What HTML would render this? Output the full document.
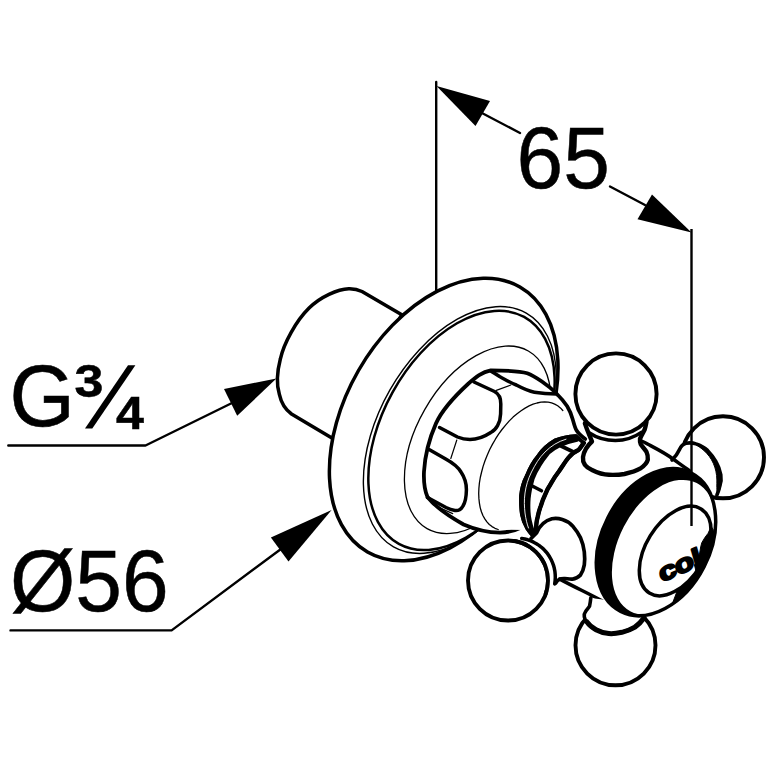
<!DOCTYPE html>
<html><head><meta charset="utf-8">
<style>
html,body{margin:0;padding:0;background:#fff;}
body{width:771px;height:771px;overflow:hidden;}
svg{display:block;}
text{font-family:"Liberation Sans",sans-serif;fill:#000;}
</style></head>
<body>
<svg width="771" height="771" viewBox="0 0 771 771">
<defs><clipPath id="faceclip"><ellipse cx="675.2" cy="551" rx="29.2" ry="49.4" transform="rotate(31.6 675.2 551)"/></clipPath></defs>
<g fill="#fff" stroke="#000" stroke-linejoin="round" stroke-linecap="round">
<line x1="436.2" y1="82" x2="436.2" y2="290" stroke-width="2.4"/>
<line x1="480" y1="112" x2="520" y2="133" stroke-width="2.4"/>
<line x1="610" y1="186.5" x2="645" y2="205" stroke-width="2.4"/>
<polygon points="436.5,86 490,101 475.5,126" fill="#000" stroke="none"/>
<polygon points="691.5,232.5 652,194.5 637.5,219.3" fill="#000" stroke="none"/>
<polyline points="8.3,445.5 145.5,445.5 232,403" fill="none" stroke-width="2.4"/>
<polygon points="276.4,378.5 224,388.9 237.2,415.8" fill="#000" stroke="none"/>
<polyline points="10.5,630.4 171.6,630.4 281,549" fill="none" stroke-width="2.4"/>
<polygon points="331.6,510 270.9,537.5 288.5,561.4" fill="#000" stroke="none"/>
<path d="M401.8,314.7 L362,291.5 Q356,288.5 348.8,288.7 C338,289 320,297 309.1,308.1 C296,321 284,343 280.4,358.8 C277,372 276.5,385 279.3,394.1 C281,402 286,410 291.5,414 L332.3,438.2 Z" stroke-width="3.5"/>
<ellipse cx="443.7" cy="419.5" rx="98.3" ry="152.9" transform="rotate(29.9 443.7 419.5)" stroke-width="3.5"/>
<ellipse cx="459.9" cy="430" rx="80.6" ry="134.4" transform="rotate(29.6 459.9 430)" stroke-width="1.4"/>
<ellipse cx="461.5" cy="430.4" rx="78.8" ry="129.6" transform="rotate(28.9 461.5 430.4)" stroke-width="2.5" fill="none"/>
<ellipse cx="477.7" cy="439.8" rx="61" ry="102.2" transform="rotate(29.7 477.7 439.8)" stroke-width="1.3"/>
<path d="M556,393 C549,386 535,376 527.2,373.2 C520,371 505,370.5 490.8,370.4 C482,372 476,377 468,384 C455,396 442,410 436,423.4 C430,437 425,455 424,471.5 C423.5,482 425,491 427.5,497 C433,504 445,514 463.6,524.5 C475,529.5 490,532.5 500,532.6 C508,532.5 515,530.5 520,528  L540,500 L560,410 Z" stroke="none"/>
<path d="M556,393 C549,386 535,376 527.2,373.2 C520,371 505,370.5 490.8,370.4 C482,372 476,377 468,384 C455,396 442,410 436,423.4 C430,437 425,455 424,471.5 C423.5,482 425,491 427.5,497 C433,504 445,514 463.6,524.5 C475,529.5 490,532.5 500,532.6 C508,532.5 515,530.5 520,528" fill="none" stroke-width="3.8"/>
<path d="M490.8,371 C494,373 497,375 500,376.8 C506,380 511,383 516.3,385 C522,388 528,391 534.4,392.2 C542,393.5 550,394 556.2,394" fill="none" stroke-width="3.5"/>
<path d="M474,382 L494.5,391.5 C499,394 501,398 500.8,404 L500.6,414 C500.4,423 496,430 490.8,432.5 C484,437 477,439.5 470,439.5 C465,439.5 461,438.5 457.5,437 L439.5,427.5" fill="none" stroke-width="3.5"/>
<line x1="496.3" y1="390.4" x2="510.8" y2="385" stroke-width="1.2"/>
<line x1="456.8" y1="440" x2="450.8" y2="458.5" stroke-width="1.2"/>
<path d="M429.5,449.7 L445.7,459 C453,463 458,467 461,472 C465,478 466.5,484 466.4,490 C466.3,496 465.5,502 463,506 C461,509.5 458.5,511 455,510.5 C452,510 449,509 446,507.5 L427.5,497.5" fill="none" stroke-width="3.5"/>
<line x1="432.7" y1="504.5" x2="452.7" y2="513.6" stroke-width="1.2"/>
<path d="M562.8,410.5 L560.4,407.9 L557.7,405.8 L554.7,404.1 L551.6,402.9 L548.2,402.2 L544.6,402.0 L540.9,402.2 L537.0,403.0 L533.1,404.2 L529.1,405.9 L525.1,408.1 L521.1,410.7 L517.1,413.7 L513.1,417.1 L509.3,420.9 L505.6,425.1 L502.0,429.5 L498.6,434.2 L495.4,439.2 L492.4,444.4 L489.6,449.7 L487.2,455.2 L485.0,460.8 L483.1,466.4 L481.6,472.0 L480.3,477.5 L479.4,483.0 L478.9,488.3 L478.7,493.5 L478.9,498.4 L479.4,503.2 L480.2,507.6 L481.4,511.7 L482.9,515.5 L484.8,518.9 L486.9,521.9 L489.3,524.5 L492.0,526.6 L495.0,528.3 L498.2,529.5 L525,530 L545,470 L575,430 Z" stroke="none"/>
<path d="M562.8,410.5 L560.4,407.9 L557.7,405.8 L554.7,404.1 L551.6,402.9 L548.2,402.2 L544.6,402.0 L540.9,402.2 L537.0,403.0 L533.1,404.2 L529.1,405.9 L525.1,408.1 L521.1,410.7 L517.1,413.7 L513.1,417.1 L509.3,420.9 L505.6,425.1 L502.0,429.5 L498.6,434.2 L495.4,439.2 L492.4,444.4 L489.6,449.7 L487.2,455.2 L485.0,460.8 L483.1,466.4 L481.6,472.0 L480.3,477.5 L479.4,483.0 L478.9,488.3 L478.7,493.5 L478.9,498.4 L479.4,503.2 L480.2,507.6 L481.4,511.7 L482.9,515.5 L484.8,518.9 L486.9,521.9 L489.3,524.5 L492.0,526.6 L495.0,528.3 L498.2,529.5" fill="none" stroke-width="1.3"/>
<path d="M556,393 C561,398 565,403 567.2,406.3 C570,411 571.5,415 572.6,419 C574,424 575,428 576.3,430 C578,433 581,436 585.3,439" fill="none" stroke-width="3.7"/>
<path d="M582.6,445.3 L592,441.5 L647.8,442.8 L673,459 L690,470 L712,492 L717,515 L700,580 L646,616 L615,608 L582,592 L567,580 L540,530 L535.4,531.3 L530,500 L545,460 Z" stroke="none"/>
<path d="M575.8,436 C568,436.5 561,438 555.6,440.2 C549,444 543,449 538.7,455.4 C533,462 529.5,469 526.9,475.6 C523,483 521.5,490 521,495.9 C520.8,502 521,508 521.9,514.4 C523,520 524.5,524 526.9,527.9 C529,531 531,534 533.7,536.4 L535.9,531.9 C536,527 536.5,521 537.6,517.3 C538.5,513 539.5,509 540.8,506 C542,502 543.5,498 545,495 C546.5,491 548.5,487 550.7,483.9 C553.5,479 556,475 559.2,471 C562,467 565,462 568.2,458 C571.5,454 575,451.5 578.5,450 C580.5,448 582,445 583.8,443 Z" stroke-width="3.7"/>
<path d="M535.9,531.9 C536,527 536.5,521 537.6,517.3 C538.5,513 539.5,509 540.8,506 C542,502 543.5,498 545,495 C546.5,491 548.5,487 550.7,483.9 C553.5,479 556,475 559.2,471 C562,467 565,462 568.2,458 C571.5,454 575,451.5 578.5,450 C580.5,448 582,445 583.8,443" fill="none" stroke-width="4.4"/>
<path d="M575.8,436 C568,436.5 561,438 555.6,440.2 C549,444 543,449 538.7,455.4 C533,462 529.5,469 526.9,475.6 C523,483 521.5,490 521,495.9 C520.8,502 521,508 521.9,514.4 C523,520 524.5,524 526.9,527.9 C529,531 531,534 533.7,536.4 L532.5,530 C530.5,524 529,518 528.7,512 C528.4,507 528.4,503 528.8,498.3 C529.5,491 531,485 532.7,478.9 C534.5,474 536.5,470 539.2,465.9 C542,461 545,457 548.3,453 C552,449.5 556,447 560,445.2 C565,443 570,441.5 577,440 Z" fill="#000" stroke-width="3.7"/>
<path d="M566,439.2 C558,441.5 551,446 545,452 C539,458 535,465 531.5,472 C528,479 526,486 525,493 C524,500 524.3,507 525,513 C525.8,519 527,524 528.5,528" fill="none" stroke="#fff" stroke-width="0.9"/>
<line x1="530.3" y1="485" x2="541.5" y2="490.8" stroke-width="3.5"/>
<line x1="561" y1="446" x2="572.5" y2="451.5" stroke-width="3.8"/>
<circle cx="723" cy="457.3" r="41" stroke-width="3.9"/>
<path d="M672,460 C676,456 678,453 679.5,449.5 C681,446 683,444 686,443.2 C690,442.5 693,442.8 696,443.9 C701,445.5 704.5,447.5 707.5,450.4 C711,454 714,458 716.1,461.9 C718.5,466 720,470.5 720.8,474.9 C721.5,479 721,483 719.7,486.4 C719,490 718,492.5 716.9,495 L690,490 Z" stroke="none"/>
<path d="M672,460 C676,456 678,453 679.5,449.5 C681,446 683,444 686,443.2 C690,442.5 693,442.8 696,443.9 C701,445.5 704.5,447.5 707.5,450.4 C711,454 714,458 716.1,461.9 C718.5,466 720,470.5 720.8,474.9 C721.5,479 721,483 719.7,486.4 C719,490 718,492.5 716.9,495" fill="none" stroke-width="3.6"/>
<path d="M694,443 C700,444 704,446.5 707.5,449.5 C712,454 715,459 717.5,464 C720,469 721.5,474 721.5,479 C721.5,485 720,490 717.6,495 C716.5,490 716.9,485 716.9,480 C716.8,474 715.5,468 713.3,463.3 C711,458 708,454.5 704.5,451 C701,448 698,446 694,443 Z" fill="#000" stroke-width="1"/>
<path d="M640.5,440.5 C644,442 646,443 648,444.3 C655,448 665,453 673,459 C678,462.5 684,467 689.5,470.6" fill="none" stroke-width="3.5"/>
<path d="M584.9,423.3 C587,430 589,434 592,441.5 C588,445 584,451 583,457 C582.5,462 585,467 592,470 C598,473 603,474.6 608.9,474.8 C614,475 619,474.9 624.5,474 C631,472.5 636,471 640,468.7 C644,466 647,463 647.8,459.7 C648,456 647.5,454 646.5,451.9 C644.5,448.5 642,446.5 640.7,444.1 C640,442 639.8,440.5 640,438.9 C641.5,435 643.5,432 644.6,429.8 C645.5,427 646,424 646.5,422 Z" stroke-width="4.4"/>
<path d="M589.5,433 C597,438 606,440.5 615.4,440.6 C625,440.5 634,437.5 641.3,432.4" fill="none" stroke-width="3.5"/>
<circle cx="616" cy="394" r="40.6" stroke-width="3.9"/>
<circle cx="508" cy="580.5" r="40" stroke-width="3.9"/>
<path d="M531,538.5 L536.5,533 C539,527 544,521 551.9,518.8 C556,518 559,518.5 562.3,519.5 C567,521 570,523 572.6,525.9 C576,530 578.5,533.5 580.4,537.6 C582.5,542.5 583.8,547 584.3,551.9 C584.8,556.5 584.8,561 584.3,564.9 C583.5,569.5 582,573 580.4,575.2 C578,577.5 575.5,578.8 572.6,579.1 C569.5,579.3 567,578.6 564.9,578.5 C562,578.4 560.5,578.7 559.7,579.1 C558,580 556.5,581.5 555.8,583 L549,597 L546,560 L525,540 Z" stroke="none"/>
<path d="M531,538.5 L536.5,533 C539,527 544,521 551.9,518.8 C556,518 559,518.5 562.3,519.5 C567,521 570,523 572.6,525.9 C576,530 578.5,533.5 580.4,537.6 C582.5,542.5 583.8,547 584.3,551.9 C584.8,556.5 584.8,561 584.3,564.9 C583.5,569.5 582,573 580.4,575.2 C578,577.5 575.5,578.8 572.6,579.1 C569.5,579.3 567,578.6 564.9,578.5 C562,578.4 560.5,578.7 559.7,579.1 C558,580 556.5,581.5 555.8,583" fill="none" stroke-width="3.7"/>
<path d="M521.7,538.5 L524.8,539.0 L527.8,539.8 L530.8,540.9 L533.6,542.2 L536.4,543.7 L539.0,545.4 L541.5,547.3 L543.8,549.4 L545.9,551.7 L547.9,554.2 L549.6,556.8 L551.1,559.5 L552.4,562.4 L553.5,565.3 L554.3,568.3 L554.9,571.4 L555.2,574.5 L555.3,577.6 L555.1,580.8 L554.7,583.9" fill="none" stroke-width="3.5"/>
<path d="M514.9,541.1 L518.4,541.9 L521.7,542.9 L524.9,544.2 L528.0,545.9 L530.9,547.7 L533.7,549.9 L536.3,552.2 L538.6,554.8 L540.8,557.6 L542.6,560.5 L544.3,563.6 L545.6,566.8 L546.6,570.1 L547.4,573.6 L547.8,577.0 L548.0,580.5 L547.8,584.0 L547.4,587.4 L546.6,590.9 L545.6,594.2" fill="none" stroke-width="3.9"/>
<path d="M559.7,579.1 C567,583 575,587 582,590.5 C589,594 595,597 602.4,601" fill="none" stroke-width="3.5"/>
<circle cx="615.5" cy="645.3" r="40" stroke-width="3.9"/>
<path d="M590.8,597.9 C590.5,601 590,604 589.5,606.3 C588,608.5 586.5,610 585.6,611.5 C584.5,613 584,615 584.3,616.7 C584.6,619 585.5,620.5 586.9,621.9 C589,625 592,627.5 596,629.7 C600,631.8 604,633.3 608.9,633.6 C613,634 617.5,633.3 621.9,632.3 C626,631.2 631,629.5 634.9,627.1 C638.5,624.5 641.5,621.5 643.9,618 L646,605 Z" stroke="none"/>
<path d="M590.8,597.9 C590.5,601 590,604 589.5,606.3 C588,608.5 586.5,610 585.6,611.5 C584.5,613 584,615 584.3,616.7 C584.6,619 585.5,620.5 586.9,621.9 C589,625 592,627.5 596,629.7 C600,631.8 604,633.3 608.9,633.6 C613,634 617.5,633.3 621.9,632.3 C626,631.2 631,629.5 634.9,627.1 C638.5,624.5 641.5,621.5 643.9,618" fill="none" stroke-width="3.6"/>
<path d="M586.9,621.9 C589,625 592,627.5 596,629.7 C600,631.8 604,633.3 608.9,633.6 C613,634 617.5,633.3 621.9,632.3 C626,631.2 631,629.5 634.9,627.1 C638.5,624.5 641.5,621.5 643.9,618" fill="none" stroke-width="5"/>
<ellipse cx="656" cy="542.2" rx="54" ry="77.7" transform="rotate(27 656 542.2)" stroke="none" fill="#000"/>
<ellipse cx="663.7" cy="547.3" rx="44.9" ry="72.2" transform="rotate(27.2 663.7 547.3)" stroke="none" fill="#fff"/>
<ellipse cx="656" cy="542.2" rx="54" ry="77.7" transform="rotate(27 656 542.2)" stroke-width="3.5" fill="none"/>
<ellipse cx="675.2" cy="551" rx="29.2" ry="49.4" transform="rotate(31.6 675.2 551)" stroke-width="3.5" fill="none"/>
<path d="M711.0,527.0 L708.0,533.4 L704.9,537.5 L701.8,542.7 L700.7,546.9 L699.7,553.1 L697.6,559.3 L694.5,565.0 L696.2,572.0 L694.1,574.7 L692.0,577.3 L689.7,579.8 L687.4,582.1 L685.0,584.3 L682.6,586.3 L680.1,588.1 L677.6,589.8 L672.2,604.1 L677.1,600.5 L681.9,596.3 L686.5,591.8 L690.9,586.9 L694.9,581.7 L698.7,576.1 L702.2,570.3 L705.3,564.3 L708.1,558.1 L710.4,551.8 L712.3,545.4 L713.8,539.0 L714.9,532.6 Z" fill="#000" stroke="#000" stroke-width="1"/>
<g clip-path="url(#faceclip)"><text transform="translate(661.5,582.5) rotate(-24) skewX(-8) scale(1.3,1)" font-size="25" font-weight="bold" stroke="#000" stroke-width="2" fill="#000" letter-spacing="-0.6">col</text></g>
</g>
<g stroke="#000" stroke-width="0.5">
<text transform="translate(9.5,425.6) scale(1,1.035)" font-size="84">G</text>
<text transform="translate(74.6,397.3) scale(1.13,1)" font-size="46" font-weight="bold">3</text>
<text transform="translate(116,428.9) scale(1.09,1)" font-size="46" font-weight="bold">4</text>
<text transform="translate(10,610.8) scale(1,1.035)" font-size="84">Ø56</text>
<text transform="translate(516.6,188.3) scale(1,1.035)" font-size="84">65</text>
</g>
<polygon points="85,428.5 92.3,428.5 135.4,365.2 128,365.2" fill="#000"/>
<line x1="691.5" y1="229" x2="691.5" y2="526" stroke="#000" stroke-width="2.4"/>
</svg>
</body></html>
